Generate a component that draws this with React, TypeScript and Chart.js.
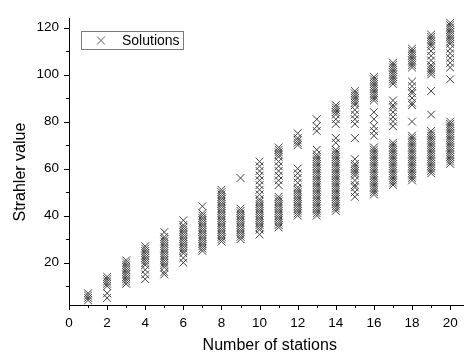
import React, { useEffect, useRef } from "react";
import { Chart, registerables } from "chart.js";

Chart.register(...registerables);

// ---- data ----
const stationCounts = [1, 2, 3, 4, 5, 6, 7, 8, 9, 10, 11, 12, 13, 14, 15, 16, 17, 18, 19, 20];

const v01 = [4, 5, 6, 7];
const v02 = [5, 7, 10, 11, 12, 13, 14];
const v03 = [11, 12, 13, 14, 15, 16, 17, 18, 19, 20, 21];
const v04 = [13, 15, 17, 19, 20, 21, 22, 23, 24, 25, 26, 27];
const v05 = [15, 16, 18, 19, 20, 21, 22, 23, 24, 25, 26, 27, 28, 29, 30, 31, 33];
const v06 = [20, 22, 24, 25, 26, 27, 28, 29, 30, 31, 32, 33, 34, 35, 36, 38];
const v07 = [25, 26, 27, 28, 29, 30, 31, 32, 33, 34, 35, 36, 37, 38, 39, 40, 41, 44];
const v08 = [29, 30, 31, 32, 33, 34, 35, 36, 37, 38, 39, 40, 41, 42, 43, 44, 45, 46, 47, 48, 49, 50, 51];
const v09 = [30, 31, 32, 33, 34, 35, 36, 37, 38, 39, 40, 41, 42, 43, 56];
const v10 = [32, 34, 35, 36, 37, 38, 39, 40, 41, 42, 43, 44, 45, 46, 47, 49, 51, 53, 55, 57, 59, 61, 63];
const v11 = [35, 36, 37, 38, 39, 40, 41, 42, 43, 44, 45, 46, 47, 48, 53, 55, 57, 59, 61, 63, 65, 66, 67, 68, 69];
const v12 = [40, 41, 42, 43, 44, 45, 46, 47, 48, 49, 50, 51, 52, 54, 56, 58, 60, 70, 71, 72, 73, 75];
const v13 = [40, 41, 42, 43, 44, 45, 46, 47, 48, 49, 50, 51, 52, 53, 54, 55, 56, 57, 58, 59, 60, 61, 62, 63, 64, 65, 66, 68, 76, 78, 81];
const v14 = [42, 43, 44, 45, 46, 47, 48, 49, 50, 51, 52, 53, 54, 55, 56, 57, 58, 59, 60, 61, 62, 63, 64, 65, 66, 67, 68, 71, 73, 79, 81, 83, 84, 85, 86, 87];
const v15 = [48, 50, 52, 53, 55, 57, 58, 59, 60, 61, 62, 64, 73, 79, 81, 83, 85, 87, 88, 89, 90, 91, 92, 93];
const v16 = [49, 50, 51, 52, 53, 54, 55, 56, 57, 58, 59, 60, 61, 62, 63, 64, 65, 66, 67, 68, 69, 74, 76, 78, 81, 84, 89, 90, 91, 92, 93, 94, 95, 96, 97, 98, 99];
const v17 = [53, 54, 55, 56, 57, 58, 59, 60, 61, 62, 63, 64, 65, 66, 67, 68, 69, 70, 71, 78, 80, 82, 84, 86, 87, 89, 96, 97, 98, 99, 100, 101, 102, 103, 104, 105];
const v18 = [55, 56, 57, 58, 59, 60, 61, 62, 63, 64, 65, 66, 67, 68, 69, 70, 71, 72, 73, 74, 80, 87, 88, 90, 92, 93, 95, 97, 103, 104, 105, 106, 107, 108, 109, 110, 111];
const v19 = [58, 59, 60, 61, 62, 63, 64, 65, 66, 67, 68, 69, 70, 71, 72, 73, 74, 75, 76, 83, 93, 100, 101, 102, 103, 104, 106, 108, 110, 112, 113, 114, 115, 116, 117];
const v20 = [62, 63, 64, 65, 66, 67, 68, 69, 70, 71, 72, 73, 74, 75, 76, 77, 78, 79, 80, 98, 103, 105, 107, 109, 111, 113, 114, 115, 116, 117, 118, 119, 120, 121, 122];

const solutionsByStation = [v01, v02, v03, v04, v05, v06, v07, v08, v09, v10, v11, v12, v13, v14, v15, v16, v17, v18, v19, v20];

const xMajorTicks = [0, 2, 4, 6, 8, 10, 12, 14, 16, 18, 20];
const xMinorTicks = [1, 3, 5, 7, 9, 11, 13, 15, 17, 19];
const yMajorTicks = [20, 40, 60, 80, 100, 120];
const yMinorTicks = [10, 30, 50, 70, 90, 110];

const seriesLabel = "Solutions";
const xTitle = "Number of stations";
const yTitle = "Strahler value";

const FONT = "Arial, 'Liberation Sans', Helvetica, sans-serif";
const MARK = "#404040";

const decorPlugin = {
  id: "decor",
  afterDraw(chart: any) {
    const { ctx, chartArea, scales } = chart;
    const xs = scales.x;
    const ys = scales.y;
    const { left, right, top, bottom } = chartArea;
    ctx.save();
    ctx.strokeStyle = "#000";
    ctx.lineWidth = 1;
    ctx.beginPath();
    const xTick = (v: number, len: number) => {
      const px = Math.round(xs.getPixelForValue(v)) + 0.5;
      ctx.moveTo(px, Math.round(bottom));
      ctx.lineTo(px, Math.round(bottom) + len);
    };
    const yTick = (v: number, len: number) => {
      const py = Math.round(ys.getPixelForValue(v)) + 0.5;
      ctx.moveTo(Math.round(left), py);
      ctx.lineTo(Math.round(left) - len, py);
    };
    xMajorTicks.forEach((v) => xTick(v, 5));
    xMinorTicks.forEach((v) => xTick(v, 3));
    yMajorTicks.forEach((v) => yTick(v, 5));
    yMinorTicks.forEach((v) => yTick(v, 3));
    ctx.stroke();

    // axis titles
    ctx.fillStyle = "#000";
    ctx.font = `16px ${FONT}`;
    ctx.textAlign = "center";
    ctx.textBaseline = "middle";
    ctx.fillText(xTitle, (left + right) / 2 + 3.5, bottom + 41);
    ctx.save();
    ctx.translate(21, (top + bottom) / 2 + 10.5);
    ctx.rotate(-Math.PI / 2);
    ctx.fillText(yTitle, 0, 0);
    ctx.restore();

    // legend
    const bx = Math.round(left) + 12.5;
    const by = Math.round(top) + 13.5;
    ctx.strokeStyle = "#7a7a7a";
    ctx.strokeRect(bx, by, 102, 18);
    const cx = bx + 19.5;
    const cy = by + 9;
    ctx.strokeStyle = "#606060";
    ctx.beginPath();
    ctx.moveTo(cx - 4, cy - 4);
    ctx.lineTo(cx + 4, cy + 4);
    ctx.moveTo(cx - 4, cy + 4);
    ctx.lineTo(cx + 4, cy - 4);
    ctx.stroke();
    ctx.fillStyle = "#000";
    ctx.font = `14px ${FONT}`;
    ctx.textAlign = "left";
    ctx.fillText(seriesLabel, bx + 40.5, cy + 0.5);
    ctx.restore();
  },
};

export default function App() {
  const ref = useRef<HTMLCanvasElement>(null);

  useEffect(() => {
    if (!ref.current) return;
    const points = stationCounts.flatMap((n, i) =>
      solutionsByStation[i].map((v) => ({ x: n, y: v }))
    );
    const chart = new Chart(ref.current, {
      type: "scatter",
      data: {
        datasets: [
          {
            label: seriesLabel,
            data: points,
            pointStyle: "crossRot",
            pointRadius: 5.5,
            borderWidth: 1,
            borderColor: MARK,
            backgroundColor: "transparent",
            showLine: false,
          } as any,
        ],
      },
      options: {
        animation: false,
        responsive: false,
        maintainAspectRatio: false,
        layout: { padding: { top: 6, right: 0, bottom: 0, left: 0 } },
        plugins: {
          legend: { display: false },
          tooltip: { enabled: false },
        },
        scales: {
          x: {
            type: "linear",
            min: 0,
            max: 20.7,
            afterBuildTicks: (s: any) => {
              s.ticks = xMajorTicks.map((v) => ({ value: v }));
            },
            afterFit: (s: any) => {
              s.height = 53;
            },
            grid: { display: false, drawTicks: false },
            border: { display: true, color: "#000", width: 1 },
            ticks: {
              padding: 10,
              color: "#000",
              font: { family: FONT, size: 13.5 },
              maxRotation: 0,
              autoSkip: false,
            },
          },
          y: {
            type: "linear",
            min: 2,
            max: 124,
            afterBuildTicks: (s: any) => {
              s.ticks = yMajorTicks.map((v) => ({ value: v }));
            },
            afterFit: (s: any) => {
              s.width = 69;
            },
            grid: { display: false, drawTicks: false },
            border: { display: true, color: "#000", width: 1 },
            ticks: {
              padding: 10,
              color: "#000",
              font: { family: FONT, size: 13.5 },
              autoSkip: false,
            },
          },
        },
      } as any,
      plugins: [decorPlugin],
    });
    return () => chart.destroy();
  }, []);

  return (
    <div style={{ position: "absolute", left: 0, top: 0, width: 470, height: 358, background: "#fff" }}>
      <canvas ref={ref} width={470} height={358} style={{ display: "block", width: 470, height: 358 }} />
    </div>
  );
}
